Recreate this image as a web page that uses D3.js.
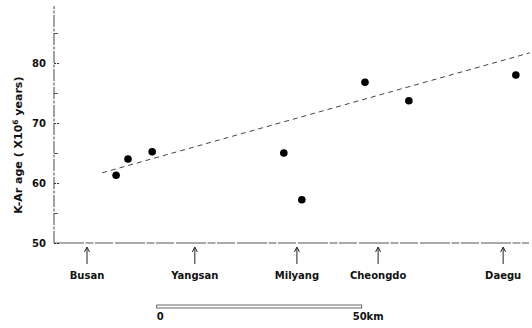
<!DOCTYPE html>
<html>
<head>
<meta charset="utf-8">
<script src="https://cdn.jsdelivr.net/npm/d3@7"></script>
<style>
  body { margin: 0; background: #fff; }
  text { font-family: "DejaVu Sans", sans-serif; font-weight: bold; fill: #111; }
</style>
</head>
<body>
<div id="container"></div>
<script>
// distance along the section (km from Busan) and K-Ar age (Ma)
let sampleKm = [7.1, 10, 15.9, 48, 52.4, 67.8, 78.5, 104.6];
let sampleAge = [61.3, 64, 65.2, 65, 57.2, 76.8, 73.7, 78];

// towns shown with arrows under the base line
let towns = ['Busan', 'Yangsan', 'Milyang', 'Cheongdo', 'Daegu'];
let townKm = [0, 26.3, 51.2, 71, 101.5];

// dashed trend line ends
let trendKm = [3.7, 108];
let trendAge = [61.7, 81.7];

let majorTicks = [50, 60, 70, 80];
let minorTicks = [55, 65, 75, 85];

// scale bar (0 - 50 km)
let scaleBarKm = [17, 67];
let scaleBarLabels = ['0', '50km'];

let width = 532;
let height = 328;
let svg = d3.create('svg').attr('width', width).attr('height', height);

let x = d3.scaleLinear().domain([0, 100]).range([87, 497]);
let y = d3.scaleLinear().domain([50, 90]).range([243, 3]);
let axisX = 54;

// y axis line
svg.append('line')
  .attr('x1', axisX).attr('x2', axisX)
  .attr('y1', y(50)).attr('y2', y(89.5))
  .attr('stroke', '#444').attr('stroke-width', 1)
  .attr('stroke-dasharray', '12,1.5,3,1.5');

// base line
svg.append('line')
  .attr('x1', axisX).attr('x2', 529)
  .attr('y1', y(50)).attr('y2', y(50))
  .attr('stroke', '#555').attr('stroke-width', 1)
  .attr('stroke-dasharray', '30,1.5,8,1.5,18,2');

// major ticks with labels
let yAxis = d3.axisLeft(y).tickValues(majorTicks).tickSize(-6).tickPadding(8);
let gy = svg.append('g').attr('transform', `translate(${axisX},0)`).call(yAxis);
gy.select('.domain').remove();
gy.selectAll('line').attr('stroke', '#333').attr('stroke-dasharray', '2,1');
gy.selectAll('text').attr('font-size', '10px').attr('font-family', '"DejaVu Sans", sans-serif').attr('font-weight', 'bold').attr('fill', '#111');

// minor ticks
let yMinor = d3.axisLeft(y).tickValues(minorTicks).tickSize(-4).tickFormat('');
let gm = svg.append('g').attr('transform', `translate(${axisX},0)`).call(yMinor);
gm.select('.domain').remove();
gm.selectAll('line').attr('stroke', '#555');

// y label
svg.append('text')
  .attr('transform', `translate(22,${y(66.3)}) rotate(-90)`)
  .attr('text-anchor', 'middle')
  .attr('font-size', '11px')
  .html('K-Ar age ( X10<tspan baseline-shift="super" font-size="7.5px">6</tspan> years)');

// trend line
svg.append('line')
  .attr('x1', x(trendKm[0])).attr('y1', y(trendAge[0]))
  .attr('x2', x(trendKm[1])).attr('y2', y(trendAge[1]))
  .attr('stroke', '#444').attr('stroke-width', 1)
  .attr('stroke-dasharray', '5,4');

// samples
svg.selectAll('.dot')
  .data(sampleKm)
  .enter()
  .append('circle')
  .attr('class', 'dot')
  .attr('cx', d => x(d))
  .attr('cy', (d, i) => y(sampleAge[i]))
  .attr('r', 3.8)
  .attr('fill', '#000');

// town arrows and names
let tg = svg.selectAll('.town')
  .data(towns)
  .enter()
  .append('g')
  .attr('class', 'town')
  .attr('transform', (d, i) => `translate(${x(townKm[i])},0)`);

tg.append('line')
  .attr('x1', 0).attr('x2', 0)
  .attr('y1', y(50) + 5).attr('y2', y(50) + 21)
  .attr('stroke', '#222').attr('stroke-width', 1);
tg.append('path')
  .attr('d', `M-2.5,${y(50) + 9}L0,${y(50) + 4}L2.5,${y(50) + 9}`)
  .attr('fill', 'none').attr('stroke', '#222').attr('stroke-width', 1);
tg.append('text')
  .attr('y', y(50) + 36)
  .attr('text-anchor', 'middle')
  .attr('font-size', '10px')
  .text(d => d);

// scale bar
let sbY = 305;
svg.append('rect')
  .attr('x', x(scaleBarKm[0])).attr('y', sbY)
  .attr('width', x(scaleBarKm[1]) - x(scaleBarKm[0])).attr('height', 3)
  .attr('fill', 'none').attr('stroke', '#444').attr('stroke-width', 0.8);
svg.append('text')
  .attr('x', x(scaleBarKm[0])).attr('y', 320)
  .attr('text-anchor', 'start')
  .attr('font-size', '10px')
  .text(scaleBarLabels[0]);
svg.append('text')
  .attr('x', x(scaleBarKm[1]) - 9).attr('y', 320)
  .attr('text-anchor', 'start')
  .attr('font-size', '10px')
  .text(scaleBarLabels[1]);

d3.select('#container').append(() => svg.node());
</script>
</body>
</html>
